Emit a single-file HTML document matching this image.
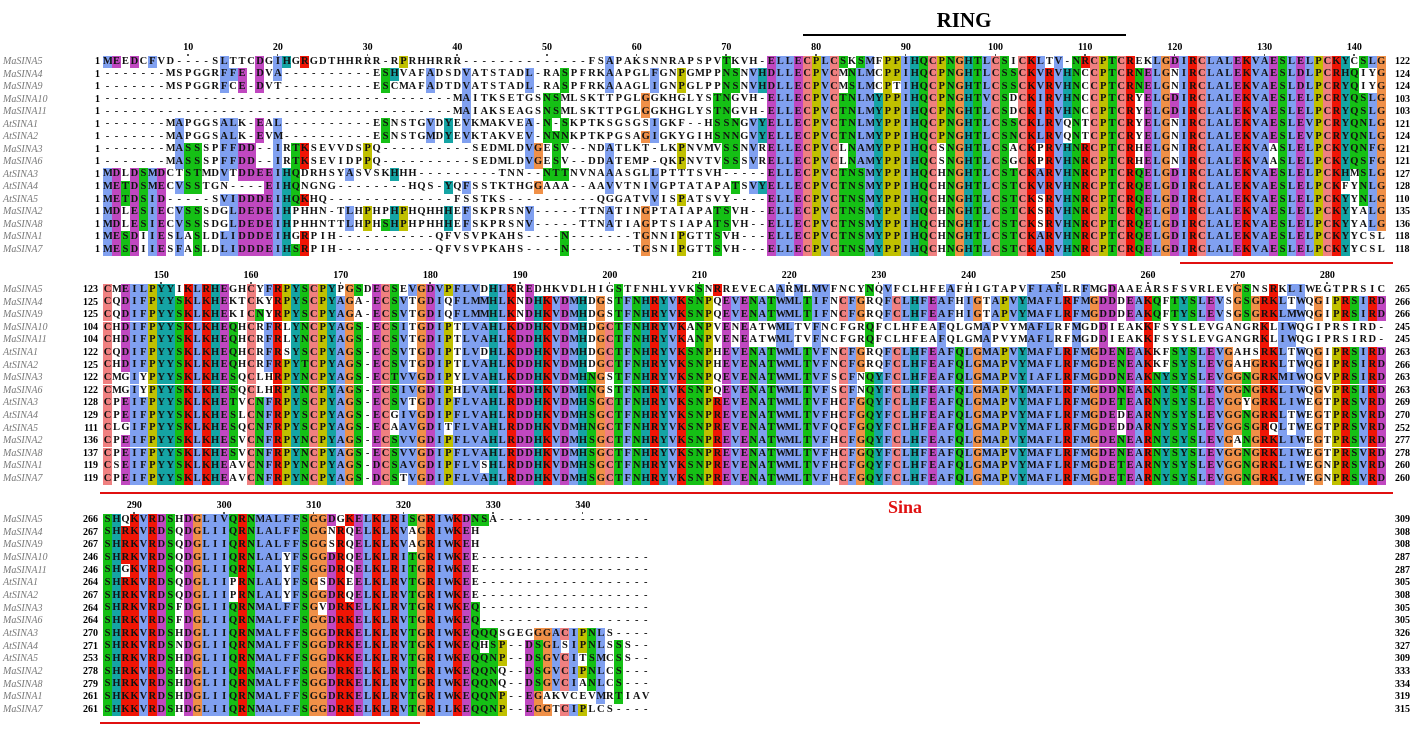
<!DOCTYPE html>
<html><head><meta charset="utf-8"><style>
body{margin:0;background:#fff;width:1417px;height:731px;overflow:hidden;position:relative;font-family:"Liberation Serif",serif}
.c{position:absolute;width:9px;height:12.6px;font-weight:bold;font-size:10.5px;line-height:12.6px;text-align:center;color:#111}
.nm{position:absolute;left:3px;font-style:italic;font-size:10px;color:#777;line-height:12px}
.num{position:absolute;width:40px;text-align:right;font-weight:bold;font-size:10px;line-height:12px}
.end{position:absolute;left:1395px;font-weight:bold;font-size:10px;line-height:12px}
.tk{position:absolute;width:30px;text-align:center;font-weight:bold;font-size:10px;line-height:10px}
.tk::after{content:"";position:absolute;left:14px;top:11px;width:1.5px;height:2px;background:#555}
</style></head><body>
<div style="position:absolute;left:925px;top:8px;width:78px;text-align:center;font-weight:bold;font-size:21px">RING</div>
<div style="position:absolute;left:803px;top:34px;width:323px;height:2px;background:#000"></div>
<div style="position:absolute;left:1180px;top:262px;width:213px;height:2px;background:#e01010"></div>
<div style="position:absolute;left:100px;top:492px;width:1293px;height:2px;background:#e01010"></div>
<div style="position:absolute;left:870px;top:497px;width:70px;text-align:center;font-weight:bold;font-size:18px;color:#e01010">Sina</div>
<div style="position:absolute;left:100px;top:722px;width:320px;height:2px;background:#e01010"></div>
<div id="root"></div>
<script>
var names=["MaSINA5","MaSINA4","MaSINA9","MaSINA10","MaSINA11","AtSINA1","AtSINA2","MaSINA3","MaSINA6","AtSINA3","AtSINA4","AtSINA5","MaSINA2","MaSINA8","MaSINA1","MaSINA7"];
var left1=["MEEDCFVD----SLTTCDGIHGRGDTHHRRR-RPRHHRRR--------------FSAPAKSNNRAPSPVTKVH",
"-------MSPGGRFFE-DVA----------ESHVAFADSDVATSTADL-RASPFRKAAPGLFGNPGMPPNSNVH",
"-------MSPGGRFCE-DVT----------ESCMAFADTDVATSTADL-RASPFRKAAAGLIGNPGLPPNSNVH",
"---------------------------------------MAITKSETGSNSMLSKTTPGLGGKHGLYSTNGVH",
"---------------------------------------MAIAKSEAGSNSMLSKTTPGLGGKHGLYSTNGVH",
"-------MAPGGSALK-EAL----------ESNSTGVDYEVKMAKVEA-N-SKPTKSGSGSIGKF--HSSNGVY",
"-------MAPGGSALK-EVM----------ESNSTGMDYEVKTAKVEV-NNNKPTKPGSAGIGKYGIHSNNGVY",
"-------MASSSPFFDD--IRTKSEVVDSPQ----------SEDMLDVGESV--NDATLKT-LKPNVMVSSNVR",
"-------MASSSPFFDD--IRTKSEVIDPPQ----------SEDMLDVGESV--DDATEMP-QKPNVTVSSSVR",
"MDLDSMDCTSTMDVTDDEEIHQDRHSYASVSKHHH---------TNN--NTTNVNAAASGLLPTTTSVH",
"METDSMECVSSTGN----EIHQNGNG--------HQS-YQFSSTKTHGGAAA--AAVVTNIVGPTATAPATSVY",
"METDSID-----SVIDDDEIHQKHQ--------------FSSTKS----------QGGATVVISPATSVY",
"MDLESIECVSSSDGLDEDEIHPHHN-TLHPHPHPHQHHHEFSKPRSNV-----TTNATINGPTAIAPATSVH",
"MDLESIECVSSSDGLDEDEIHPHHNTTLHPHSHPHPHHHEFSKPRSNV-----TTNATIAGPTSIAPATSVH",
"MESDIIESLASLDLIDDDEIHGRPIH-----------QFVSVPKAHS----N-------TGNNIPGTTSVH",
"MESDIIESFASLDLIDDDEIHSRPIH-----------QFVSVPKAHS----N-------TGSNIPGTTSVH"];
var core1=["ELLECPLCSKSMFPPIHQCPNGHTLCSICKLTV-NRCPTCREKLGDIRCLALEKVAESLELPCKYCSLG",
"DLLECPVCMNLMCPPIHQCPNGHTLCSSCKVRVHNCCPTCRNELGNIRCLALEKVAESLDLPCRHQIYG",
"DLLECPVCMSLMCPTIHQCPNGHTLCSSCKVRVHNCCPTCRNELGNIRCLALEKVAESLDLPCRYQIYG",
"ELLECPVCTNLMYPPIHQCPNGHTVCSDCKIRVHNCCPTCRYELGDIRCLALEKVAESLELPCRYQSLG",
"ELLECPVCTNLMYPPIHQCPNGHTLCSDCKIRVHNCCPTCRYELGDIRCLALEKVAESLELPCRYQSLG",
"ELLECPVCTNLMYPPIHQCPNGHTLCSSCKLRVQNTCPTCRYELGNIRCLALEKVAESLEVPCRYQNLG",
"ELLECPVCTNLMYPPIHQCPNGHTLCSNCKLRVQNTCPTCRYELGNIRCLALEKVAESLEVPCRYQNLG",
"ELLECPVCLNAMYPPIHQCSNGHTLCSACKPRVHNRCPTCRHELGNIRCLALEKVAASLELPCKYQNFG",
"ELLECPVCLNAMYPPIHQCSNGHTLCSGCKPRVHNRCPTCRHELGNIRCLALEKVAASLELPCKYQSFG",
"ELLECPVCTNSMYPPIHQCHNGHTLCSTCKARVHNRCPTCRQELGDIRCLALEKVAESLELPCKHMSLG",
"ELLECPVCTNSMYPPIHQCHNGHTLCSTCKVRVHNRCPTCRQELGDIRCLALEKVAESLELPCKFYNLG",
"ELLECPVCTNSMYPPIHQCHNGHTLCSTCKSRVHNRCPTCRQELGDIRCLALEKVAESLELPCKYYNLG",
"ELLECPVCTNSMYPPIHQCHNGHTLCSTCKSRVHNRCPTCRQELGDIRCLALEKVAESLELPCKYYALG",
"ELLECPVCTNSMYPPIHQCHNGHTLCSTCKSRVHNRCPTCRQELGDIRCLALEKVAESLELPCKYYALG",
"ELLECPVCTNSMYPPIHQCHNGHTLCSTCKARVHNRCPTCRQELGDIRCLALEKVAESLELPCKYYCSLG".slice(0,69),
"ELLECPVCTNSMYPPIHQCHNGHTLCSTCKARVHNRCPTCRQELGDIRCLALEKVAESLELPCKYYCSLG".slice(0,69)];
var block2=["CMEILPYYIKLRHEGHCYFRPYSCPYPGSDECSEVGDVPFLVDHLKREDHKVDLHIGSTFNHLYVKSNRREVECAARMLMVFNCYNQVFCLHFEAFHIGTAPVFIAFLRFMGDAAEARSFSVRLEVGSNSRKLIWEGTPRSICD",
"CQDIFPYYSKLKHEKTCKYRPYSCPYAGA-ECSVTGDIQFLMMHLKNDHKVDMHDGSTFNHRYVKSNPQEVENATWMLTIFNCFGRQFCLHFEAFHIGTAPVYMAFLRFMGDDDEAKQFTYSLEVSGSGRKLTWQGIPRSIRD",
"CQDIFPYYSKLKHEKICNYRPYSCPYAGA-ECSVTGDIQFLMMHLKNDHKVDMHDGSTFNHRYVKSNPQEVENATWMLTIFNCFGRQFCLHFEAFHIGTAPVYMAFLRFMGDDDEAKQFTYSLEVSGSGRKLMWQGIPRSIRD",
"CHDIFPYYSKLKHEQHCRFRLYNCPYAGS-ECSITGDIPTLVAHLKDDHKVDMHDGCTFNHRYVKANPVENEATWMLTVFNCFGRQFCLHFEAFQLGMAPVYMAFLRFMGDDIEAKKFSYSLEVGANGRKLIWQGIPRSIRD",
"CHDIFPYYSKLKHEQHCRFRLYNCPYAGS-ECSVTGDIPTLVAHLKDDHKVDMHDGCTFNHRYVKANPVENEATWMLTVFNCFGRQFCLHFEAFQLGMAPVYMAFLRFMGDDIEAKKFSYSLEVGANGRKLIWQGIPRSIRD",
"CQDIFPYYSKLKHEQHCRFRSYSCPYAGS-ECSVTGDIPTLVDHLKDDHKVDMHDGCTFNHRYVKSNPHEVENATWMLTVFNCFGRQFCLHFEAFQLGMAPVYMAFLRFMGDENEAKKFSYSLEVGAHSRKLTWQGIPRSIRD",
"CHDIFPYYSKLKHEQHCRFRPYTCPYAGS-ECSVTGDIPTLVAHLKDDHKVDMHDGCTFNHRYVKSNPHEVENATWMLTVFNCFGRQFCLHFEAFQLGMAPVYMAFLRFMGDENEAKKFSYSLEVGAHGRKLTWQGIPRSIRD",
"CMGIYPYYSKLKHESQCLHRPYNCPYAGS-ECTVVGDIPYLVAHLKDDHKVDMHNGSTFNHRYVKSNPQEVENATWMLTVFSCFNQYFCLHFEAFQLGMAPVYIAFLRFMGDDNEAKNYSYSLEVGGNGRKMIWQGVPRSIRD",
"CMGIYPYYSKLKHESQCLHRPYNCPYAGS-ECSIVGDIPHLVAHLKDDHKVDMHNGSTFNHRYVKSNPQEVENATWMLTVFSCFNQYFCLHFEAFQLGMAPVYMAFLRFMGDDNEAKNYSYSLEVGGNGRKLIWQGVPRSIRD",
"CPEIFPYYSKLKHETVCNFRPYSCPYAGS-ECSVTGDIPFLVAHLRDDHKVDMHSGCTFNHRYVKSNPREVENATWMLTVFHCFGQYFCLHFEAFQLGMAPVYMAFLRFMGDETEARNYSYSLEVGGYGRKLIWEGTPRSVRD",
"CPEIFPYYSKLKHESLCNFRPYSCPYAGS-ECGIVGDIPFLVAHLRDDHKVDMHSGCTFNHRYVKSNPREVENATWMLTVFHCFGQYFCLHFEAFQLGMAPVYMAFLRFMGDEDEARNYSYSLEVGGNGRKLTWEGTPRSVRD",
"CLGIFPYYSKLKHESQCNFRPYSCPYAGS-ECAAVGDITFLVAHLRDDHKVDMHNGCTFNHRYVKSNPREVENATWMLTVFQCFGQYFCLHFEAFQLGMAPVYMAFLRFMGDEDDARNYSYSLEVGGSGRQLTWEGTPRSVRD",
"CPEIFPYYSKLKHESVCNFRPYNCPYAGS-ECSVVGDIPFLVAHLRDDHKVDMHSGCTFNHRYVKSNPREVENATWMLTVFHCFGQYFCLHFEAFQLGMAPVYMAFLRFMGDENEARNYSYSLEVGANGRKLIWEGTPRSVRD",
"CPEIFPYYSKLKHESVCNFRPYNCPYAGS-ECSVVGDIPFLVAHLRDDHKVDMHSGCTFNHRYVKSNPREVENATWMLTVFHCFGQYFCLHFEAFQLGMAPVYMAFLRFMGDENEARNYSYSLEVGGNGRKLIWEGTPRSVRD",
"CSEIFPYYSKLKHEAVCNFRPYNCPYAGS-DCSAVGDIPFLVSHLRDDHKVDMHSGCTFNHRYVKSNPREVENATWMLTVFHCFGQYFCLHFEAFQLGMAPVYMAFLRFMGDETEARNYSYSLEVGGNGRKLIWEGNPRSVRD",
"CPEIFPYYSKLKHEAVCNFRPYNCPYAGS-DCSTVGDIPFLVAHLRDDHKVDMHSGCTFNHRYVKSNPREVENATWMLTVFHCFGQYFCLHFEAFQLGMAPVYMAFLRFMGDETEARNYSYSLEVGGNGRKLIWEGNPRSVRD"];
var block3=["SHQKVRDSHDGLIVQRNMALFFSGGDGKELKLRISGRIWKDNSA",
"SHRKVRDSQDGLIIQRNLALFFSGGNRQELKLKVAGRIWKEH",
"SHRKVRDSQDGLIIQRNLALFFSGGSRQELKLKVAGRIWKEH",
"SHRKVRDSQDGLIIQRNLALYFSGGDRQELKLRITGRIWKEE",
"SHGKVRDSQDGLIIQRNLALYFSGGDRQELKLRITGRIWKEE",
"SHRKVRDSQDGLIIPRNLALYFSGSDKEELKLRVTGRIWKEE",
"SHRKVRDSQDGLIIPRNLALYFSGGDRQELKLRVTGRIWKEE",
"SHRKVRDSFDGLIIQRNMALFFSGVDRKELKLRVTGRIWKEQ",
"SHRKVRDSFDGLIIQRNMALFFSGGDRKELKLRVTGRIWKEQ",
"SHRKVRDSHDGLIIQRNMALFFSGGDRKELKLRVTGRIWKEQQQSGEGGGACIPNLS",
"SHRKVRDSNDGLIIQRNMALFFSGGDRKELKLRVTGKIWKEQHSP--DSGLSIPNLSSS",
"SHRKVRDSHDGLIIQRNMALFFSGGDKKELKLRVTGRIWKEQQNP--DSGVCITSMCSS",
"SHRKVRDSHDGLIIQRNMALFFSGGDRKELKLRVTGRIWKEQQNQ--DSGVCIPNLCS",
"SHRKVRDSHDGLIIQRNMALFFSGGDRKELKLRVTGRIWKEQQNQ--DSGVCIANLCS",
"SHKKVRDSHDGLIIQRNMALFFSGGDRKELKLRVTGRIWKEQQNP--EGAKVCEVMRTIAV",
"SHKKVRDSHDGLIIQRNMALFFSGGDRKELKLRVTGRILKEQQNP--EGGTCIPLCS"];
var start1=[1,1,1,1,1,1,1,1,1,1,1,1,1,1,1,1];
var end1=[122,124,124,103,103,121,124,121,121,127,128,110,135,136,118,118];
var start2=[123,125,125,104,104,122,125,122,122,128,129,111,136,137,119,119];
var end2=[265,266,266,245,245,263,266,263,263,269,270,252,277,278,260,260];
var start3=[266,267,267,246,246,264,267,264,264,270,271,253,278,279,261,261];
var end3=[309,308,308,287,287,305,308,305,305,326,327,309,333,334,319,315];
var ticks1=[10,20,30,40,50,60,70,80,90,100,110,120,130,140];
var ticks2=[150,160,170,180,190,200,210,220,230,240,250,260,270,280];
var ticks3=[290,300,310,320,330,340];

var root=document.getElementById('root');
var CW=8.97,X0=103;
function fit(s,n){while(s.length<n)s+='-';return s.slice(0,n);}
var rows1=left1.map(function(l,i){return fit(l,74)+core1[i];});
var rows2=block2.map(function(s){return fit(s,143);});
var rows3=block3.map(function(s,i){return (i==1||i==2)?s:fit(s,61);});
var cls={A:'h',I:'h',L:'h',M:'h',F:'h',W:'h',V:'h',K:'r',R:'r',E:'d',D:'d',N:'n',Q:'n',S:'n',T:'n',C:'c',H:'y',Y:'y',G:'g',P:'p'};
var col={h:'#80a0f0',r:'#f01505',d:'#c048c0',n:'#15c015',c:'#f08080',y:'#15a4a4',g:'#f09048',p:'#c0c000'};
function draw(rows,y0,dy,starts,ends,ticks,tickBase,bi){
  var ncol=0;rows.forEach(function(r){ncol=Math.max(ncol,r.length);});
  ticks.forEach(function(t){
    var el=document.createElement('div');el.className='tk';
    
    
    el.style.left=(X0+(t-tickBase)*CW+4.5-15)+'px';el.style.top=(y0-19)+'px';el.textContent=t;root.appendChild(el);
  });
  for(var j=0;j<ncol;j++){
    var cnt={},tot=0;
    rows.forEach(function(r){var ch=r[j];if(ch&&ch!='-'){tot++;var k=cls[ch];if(k)cnt[k]=(cnt[k]||0)+1;}});
    rows.forEach(function(r,i){
      var ch=r[j];if(!ch)return;
      var el=document.createElement('div');el.className='c';
      
      
      el.style.left=(X0+j*CW)+'px';el.style.top=(y0+i*dy-6.3)+'px';
      el.textContent=ch;
      var k=cls[ch];
      if(k&&tot>=4){var th=(k=='g'||k=='p')?0.35:(k=='c'?0.6:0.5);if(cnt[k]>=tot*th)el.style.background=col[k];}
      root.appendChild(el);
    });
  }
  names.forEach(function(n,i){
    var y=y0+i*dy-6;
    var a=document.createElement('div');a.className='nm';
    
    
    a.style.top=y+'px';a.textContent=n;root.appendChild(a);
    var b=document.createElement('div');b.className='num';
    
    
    b.style.left=(bi==1?60:58)+'px';b.style.top=y+'px';b.textContent=starts[i];root.appendChild(b);
    var c=document.createElement('div');c.className='end';
    
    
    c.style.top=y+'px';c.textContent=ends[i];root.appendChild(c);
  });
}
draw(rows1,62,12.53,start1,end1,ticks1,1,1);
draw(rows2,290,12.6,start2,end2,ticks2,144,2);
draw(rows3,520,12.67,start3,end3,ticks3,287,3);
</script>
</body></html>
